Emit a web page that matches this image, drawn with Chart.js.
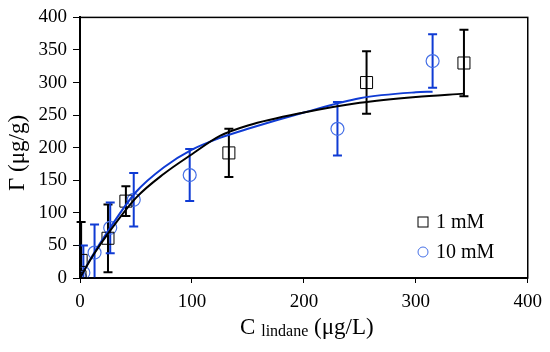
<!DOCTYPE html>
<html>
<head>
<meta charset="utf-8">
<script src="https://cdn.jsdelivr.net/npm/chart.js@4.4.1/dist/chart.umd.min.js"></script>
<style>
  body { margin: 0; background: #fff; }
  #wrap { width: 550px; height: 352px; }
</style>
</head>
<body>
<div id="wrap"><canvas id="iso" width="550" height="352"></canvas></div>
<script>
// 1 mM series (squares)
var conc1  = [0, 1, 25, 41, 133, 256, 343];
var gamma1 = [2, 27, 61, 118, 192, 300, 330];
var err1   = [0, 59, 52, 23, 37, 48, 51];

// 10 mM series (circles)
var conc10  = [0, 3, 13, 27, 48, 98, 230, 315];
var gamma10 = [1, 8, 39, 77, 120, 158, 229, 333];
var err10   = [0, 42, 43, 39, 41, 40, 41, 41];

// fitted curves
var fitX1  = [0, 10, 25, 50, 75, 100, 125, 150, 200, 250, 300, 343];
var fitY1  = [0, 30, 68, 123, 160, 190, 218, 234, 254, 269, 278, 283];
var fitX10 = [0, 10, 25, 50, 75, 100, 125, 150, 200, 250, 300, 315];
var fitY10 = [0, 31, 72, 132, 170, 197, 215, 229, 254, 276, 285, 286];

var xTicks = [0, 100, 200, 300, 400];
var yTicks = [0, 50, 100, 150, 200, 250, 300, 350, 400];

var legendLabels = ['1 mM', '10 mM'];

var BLUE_LINE = '#0f3bd4';
var BLUE_MARK = '#4670e6';
var FONT = 'Liberation Serif';

function pts(xs, ys) {
  var out = [];
  for (var i = 0; i < xs.length; i++) out.push({x: xs[i], y: ys[i]});
  return out;
}

var extras = {
  id: 'extras',
  beforeDatasetsDraw: function (chart) {
    // error bars
    var ctx = chart.ctx, xs = chart.scales.x, ys = chart.scales.y;
    var sets = [[conc1, gamma1, err1, '#000'], [conc10, gamma10, err10, BLUE_LINE]];
    ctx.save();
    ctx.lineWidth = 2;
    sets.forEach(function (s) {
      ctx.strokeStyle = s[3];
      for (var i = 0; i < s[0].length; i++) {
        if (!s[2][i]) continue;
        var px = xs.getPixelForValue(s[0][i]);
        var top = ys.getPixelForValue(s[1][i] + s[2][i]);
        var lo = s[1][i] - s[2][i];
        var clipped = lo < 0;
        var bot = ys.getPixelForValue(Math.max(lo, 0));
        ctx.beginPath();
        ctx.moveTo(px, top); ctx.lineTo(px, bot);
        ctx.moveTo(px - 4.5, top); ctx.lineTo(px + 4.5, top);
        if (!clipped) { ctx.moveTo(px - 4.5, bot); ctx.lineTo(px + 4.5, bot); }
        ctx.stroke();
      }
    });
    ctx.restore();
  },
  afterDraw: function (chart) {
    var ctx = chart.ctx, a = chart.chartArea;
    ctx.save();
    // plot frame
    ctx.strokeStyle = '#000';
    ctx.lineWidth = 1.5;
    ctx.strokeRect(a.left, a.top, a.right - a.left, a.bottom - a.top);

    // legend
    ctx.font = '20px ' + FONT;
    ctx.fillStyle = '#000';
    ctx.textBaseline = 'alphabetic';
    ctx.textAlign = 'left';
    ctx.lineWidth = 1;
    ctx.strokeStyle = '#000';
    ctx.strokeRect(418, 217, 10, 10);
    ctx.fillText(legendLabels[0], 436, 228);
    ctx.strokeStyle = BLUE_MARK;
    ctx.beginPath(); ctx.arc(423, 252, 5, 0, Math.PI * 2); ctx.stroke();
    ctx.fillText(legendLabels[1], 436, 258);

    // x title with subscript
    var big = '23px ' + FONT, small = '16px ' + FONT;
    var p1 = 'C ', p2 = 'lindane', p3 = ' (\u03bcg/L)';
    ctx.font = big; var w1 = ctx.measureText(p1).width, w3 = ctx.measureText(p3).width;
    ctx.font = small; var w2 = ctx.measureText(p2).width;
    var x0 = (a.left + a.right) / 2 + 3 - (w1 + w2 + w3) / 2;
    var base = 334;
    ctx.font = big; ctx.fillText(p1, x0, base);
    ctx.font = small; ctx.fillText(p2, x0 + w1, base + 2);
    ctx.font = big; ctx.fillText(p3, x0 + w1 + w2, base);

    // y title
    ctx.translate(18, 153);
    ctx.rotate(-Math.PI / 2);
    ctx.textAlign = 'center';
    ctx.textBaseline = 'middle';
    ctx.font = big;
    ctx.fillText('\u0393 (\u03bcg/g)', 0, 0);
    ctx.restore();
  }
};

new Chart(document.getElementById('iso'), {
  type: 'scatter',
  data: {
    datasets: [
      { type: 'line', data: pts(fitX1, fitY1), borderColor: '#000', borderWidth: 2,
        pointRadius: 0, fill: false, cubicInterpolationMode: 'monotone' },
      { type: 'line', data: pts(fitX10, fitY10), borderColor: BLUE_LINE, borderWidth: 2,
        pointRadius: 0, fill: false, cubicInterpolationMode: 'monotone' },
      { data: pts(conc1, gamma1), pointStyle: 'rect', pointRadius: 8.5,
        borderColor: '#000', borderWidth: 1, backgroundColor: 'rgba(0,0,0,0)' },
      { data: pts(conc10, gamma10), pointStyle: 'circle', pointRadius: 6.5,
        borderColor: BLUE_MARK, borderWidth: 1.2, backgroundColor: 'rgba(0,0,0,0)' }
    ]
  },
  options: {
    responsive: false,
    animation: false,
    layout: { padding: { top: 14, right: 20, left: 0, bottom: 0 } },
    plugins: { legend: { display: false }, tooltip: { enabled: false } },
    scales: {
      x: {
        min: 0, max: 400,
        afterBuildTicks: function (s) { s.ticks = xTicks.map(function (v) { return {value: v}; }); },
        afterFit: function (s) { s.height = 74; },
        ticks: { font: { family: FONT, size: 19 }, color: '#000', padding: 8 },
        grid: { drawOnChartArea: false, drawTicks: true, tickLength: 5, color: '#000' },
        border: { display: true, color: '#000', width: 2 }
      },
      y: {
        min: 0, max: 400,
        afterBuildTicks: function (s) { s.ticks = yTicks.map(function (v) { return {value: v}; }); },
        afterFit: function (s) { s.width = 80; },
        ticks: { font: { family: FONT, size: 19 }, color: '#000', padding: 6 },
        grid: { drawOnChartArea: false, drawTicks: true, tickLength: 7, color: '#000' },
        border: { display: true, color: '#000', width: 2 }
      }
    }
  },
  plugins: [extras]
});
</script>
</body>
</html>
